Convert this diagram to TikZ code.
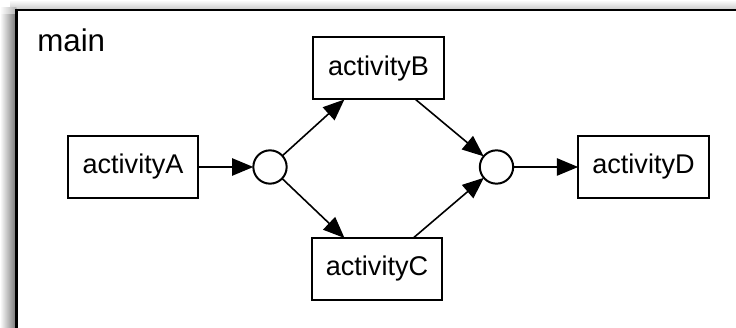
\documentclass[tikz,border=0pt]{standalone}
\usepackage{fontspec}
\setmainfont{Liberation Sans}
\usepackage{tkz-graph}
\usetikzlibrary{arrows.meta}

\begin{document}
\begin{tikzpicture}[x = 75bp, y = 75bp]
	\tikzstyle{VertexStyle} = []
	\tikzstyle{EdgeStyle} = [line width = 1.2bp, -{Triangle[length = 16bp, width = 13bp]}]
	\tikzstyle{activityStyle}=[shape = rectangle, minimum width = 98bp, minimum height = 46.5bp, inner sep = 0pt, line width = 1.5bp, draw, fill = white, font = \fontsize{20.3bp}{23bp}\selectfont]
	\tikzstyle{joinStyle}=[shape = circle, minimum size = 25bp, inner sep = 0pt, line width = 1.5bp, draw, fill = white]
	\tikzstyle{frameStyle}=[draw, line width = 1.9bp, fill = white]
	\useasboundingbox (0, 0) rectangle (7.36, 3.28);
	\clip (0, 0) rectangle (7.36, 3.28);
	% soft shadow along the left and top of the frame
	\shade[left color = white, right color = black!55] (0.00, -0.10) rectangle (0.165, 3.14);
	\shade[top color = white, bottom color = black!22] (0.10, 3.18) rectangle (7.50, 3.28);
	\shade[left color = white, right color = black!30] (0.00, 3.14) rectangle (0.165, 3.20);
	\path[frameStyle] (0.165, 3.18) rectangle (9.0, -1.0);
	\node[anchor = base west, inner sep = 0pt, font = \fontsize{23.5bp}{26bp}\selectfont] (title) at (0.37, 2.76) {main};
	\Vertex[style = activityStyle, x = 1.330, y = 1.610, L = {activityA}]{A}
	\Vertex[style = joinStyle, x = 2.700, y = 1.610, NoLabel]{j1}
	\Vertex[style = activityStyle, x = 3.785, y = 2.595, L = {activityB}]{B}
	\Vertex[style = activityStyle, x = 3.770, y = 0.590, L = {activityC}]{C}
	\Vertex[style = joinStyle, x = 4.965, y = 1.610, NoLabel]{j2}
	\Vertex[style = activityStyle, x = 6.435, y = 1.610, L = {activityD}]{D}
	\Edge(A)(j1)
	\Edge(j1)(B)
	\Edge(j1)(C)
	\Edge(B)(j2)
	\Edge(C)(j2)
	\Edge(j2)(D)
\end{tikzpicture}
\end{document}
